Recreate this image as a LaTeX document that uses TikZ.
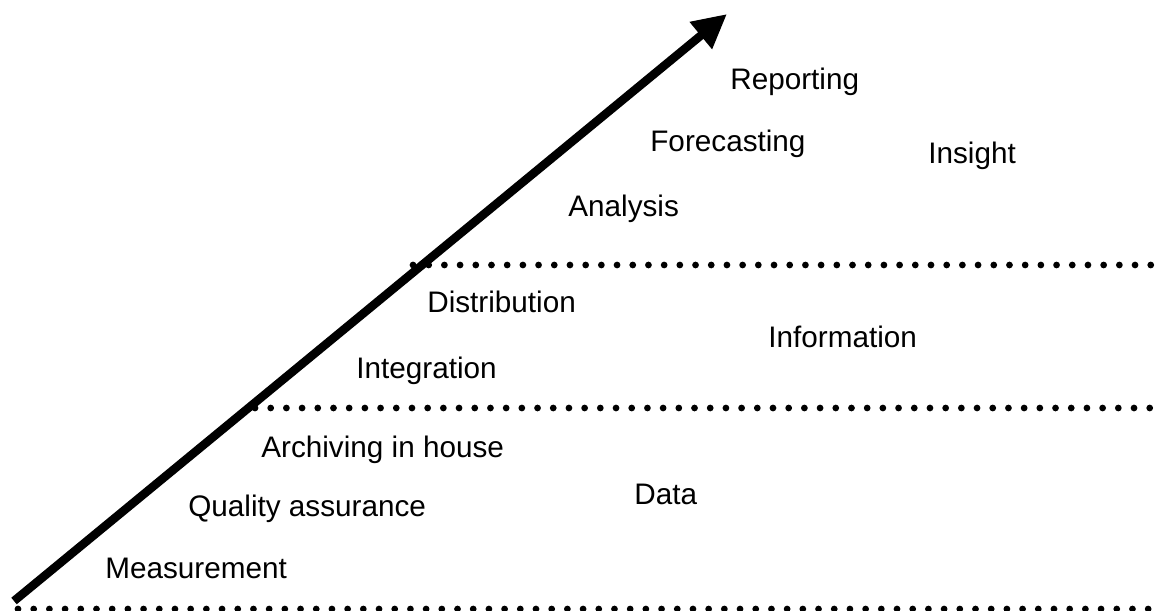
\documentclass[tikz,border=0pt]{standalone}
\usepackage{fontspec}
\setmainfont{Liberation Sans}
\usetikzlibrary{arrows.meta,positioning}
\tikzset{
    stage/.style =  {anchor=base west,
                    inner sep=0pt,
                    text=black,
                    font=\fontsize{16.9}{20}\selectfont},
    dots/.style =   {draw=black,
                    line width=0.135cm,
                    line cap=round,
                    dash pattern=on 0pt off 0.314cm},
    trend/.style =  {draw=black,
                    line width=0.17cm,
                    -{Triangle[length=0.68cm,width=0.66cm]}}}

\begin{document}
\begin{tikzpicture}[x=0.02cm, y=-0.02cm]
            \useasboundingbox (0,0) rectangle (1167,611);

            % levels
            \coordinate (L0) at (18,609);
            \coordinate (R0) at (1157,609);
            \coordinate (L1) at (255,408);
            \coordinate (R1) at (1157,408);
            \coordinate (L2) at (413,265);
            \coordinate (R2) at (1157,265);
            \coordinate (S) at (14,601);
            \coordinate (T) at (727,14);

            \node[stage]    (Rep)   at (730,90)     {Reporting};
            \node[stage]    (For)   at (650,152)    {Forecasting};
            \node[stage]    (Ins)   at (928,164)    {Insight};
            \node[stage]    (Ana)   at (568,217)    {Analysis};
            \node[stage]    (Dis)   at (427,313)    {Distribution};
            \node[stage]    (Inf)   at (768,348)    {Information};
            \node[stage]    (Int)   at (356,378)    {Integration};
            \node[stage]    (Arc)   at (261,457)    {Archiving in house};
            \node[stage]    (Qua)   at (188,516)    {Quality assurance};
            \node[stage]    (Dat)   at (634,504)    {Data};
            \node[stage]    (Mea)   at (105,578)    {Measurement};

            \path [dots]    (L0) -- (R0)
                            (L1) -- (R1)
                            (L2) -- (R2);
            \draw [trend]   (S) -- (T);
        \end{tikzpicture}
\end{document}
